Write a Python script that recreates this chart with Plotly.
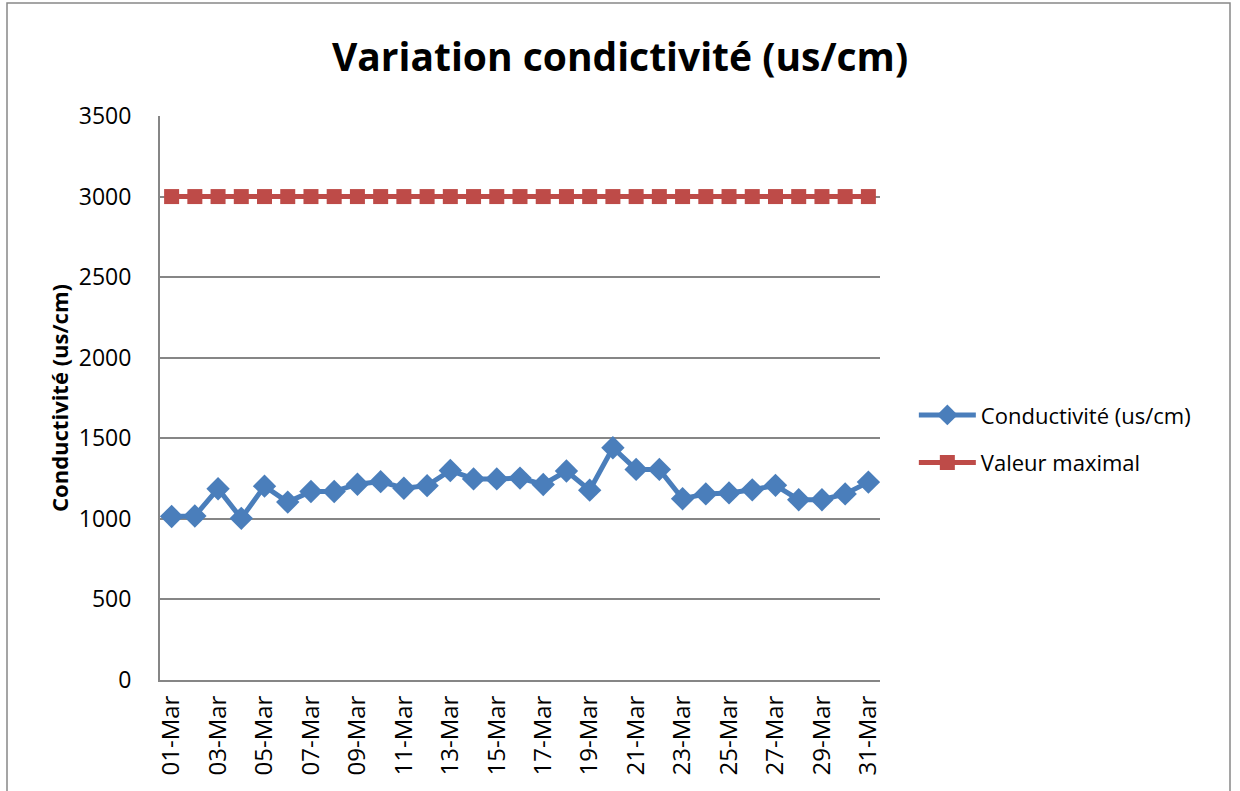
import plotly.graph_objects as go

days = [f"{d:02d}-Mar" for d in range(1, 32)]
conductivite = [1015, 1018, 1187, 1003, 1203, 1104, 1170, 1170, 1215, 1231, 1190, 1206,
                1300, 1248, 1248, 1253, 1213, 1297, 1178, 1441, 1307, 1307, 1125, 1155,
                1161, 1180, 1208, 1119, 1119, 1155, 1228]
valeur_max = [3000] * 31
tick_labels = days[::2]

font_family = "Open Sans, Noto Sans, sans-serif"

fig = go.Figure()
fig.add_trace(go.Scatter(
    x=days, y=conductivite, mode="lines+markers", name="Conductivité (us/cm)",
    legendgroup="a",
    line=dict(color="#4A7EBB", width=5),
    marker=dict(symbol="diamond", size=18, color="#4A7EBB"),
))
fig.add_trace(go.Scatter(
    x=days, y=valeur_max, mode="lines+markers", name="Valeur maximal",
    legendgroup="b",
    line=dict(color="#BE4B48", width=5),
    marker=dict(symbol="square", size=15, color="#BE4B48"),
))

fig.update_layout(
    width=1240, height=791,
    paper_bgcolor="white", plot_bgcolor="white",
    margin=dict(l=160, r=360, t=116, b=111, autoexpand=False),
    font=dict(family=font_family, size=22, color="black"),
    title=dict(text="<b>Variation condictivité (us/cm)</b>", x=0.5, xanchor="center",
               xref="container", y=0.927, yanchor="middle",
               font=dict(size=39, family=font_family)),
    showlegend=True,
    legend=dict(x=1.047, xanchor="left", y=0.427, yanchor="middle",
                font=dict(size=22), tracegroupgap=16, itemwidth=57,
                bgcolor="rgba(0,0,0,0)"),
    shapes=[dict(type="rect", xref="paper", yref="paper",
                 x0=(7 - 160) / 720, x1=(1230 - 160) / 720,
                 y0=-0.4, y1=(791 - 111 - 3) / 564,
                 line=dict(color="#888888", width=1.5))],
)
fig.update_xaxes(
    type="category", range=[-0.5, 30.5], automargin=False,
    tickmode="array", tickvals=tick_labels, ticktext=tick_labels,
    tickangle=-90, showgrid=False, showline=True, linecolor="#868686", linewidth=2,
    ticks="", ticklabelstandoff=4,
    tickfont=dict(size=24),
)
fig.update_yaxes(
    range=[0, 3500], dtick=500, showgrid=True, gridcolor="#868686", gridwidth=1.5,
    showline=True, linecolor="#868686", linewidth=2, ticks="", automargin=False,
    tickfont=dict(size=23), zeroline=False, ticklabelstandoff=22,
    title=dict(text="<b>Conductivité (us/cm)</b>", font=dict(size=22), standoff=4),
)

fig.write_html("out.html", config={"displayModeBar": False},
               post_script="document.body.style.margin='0';")
